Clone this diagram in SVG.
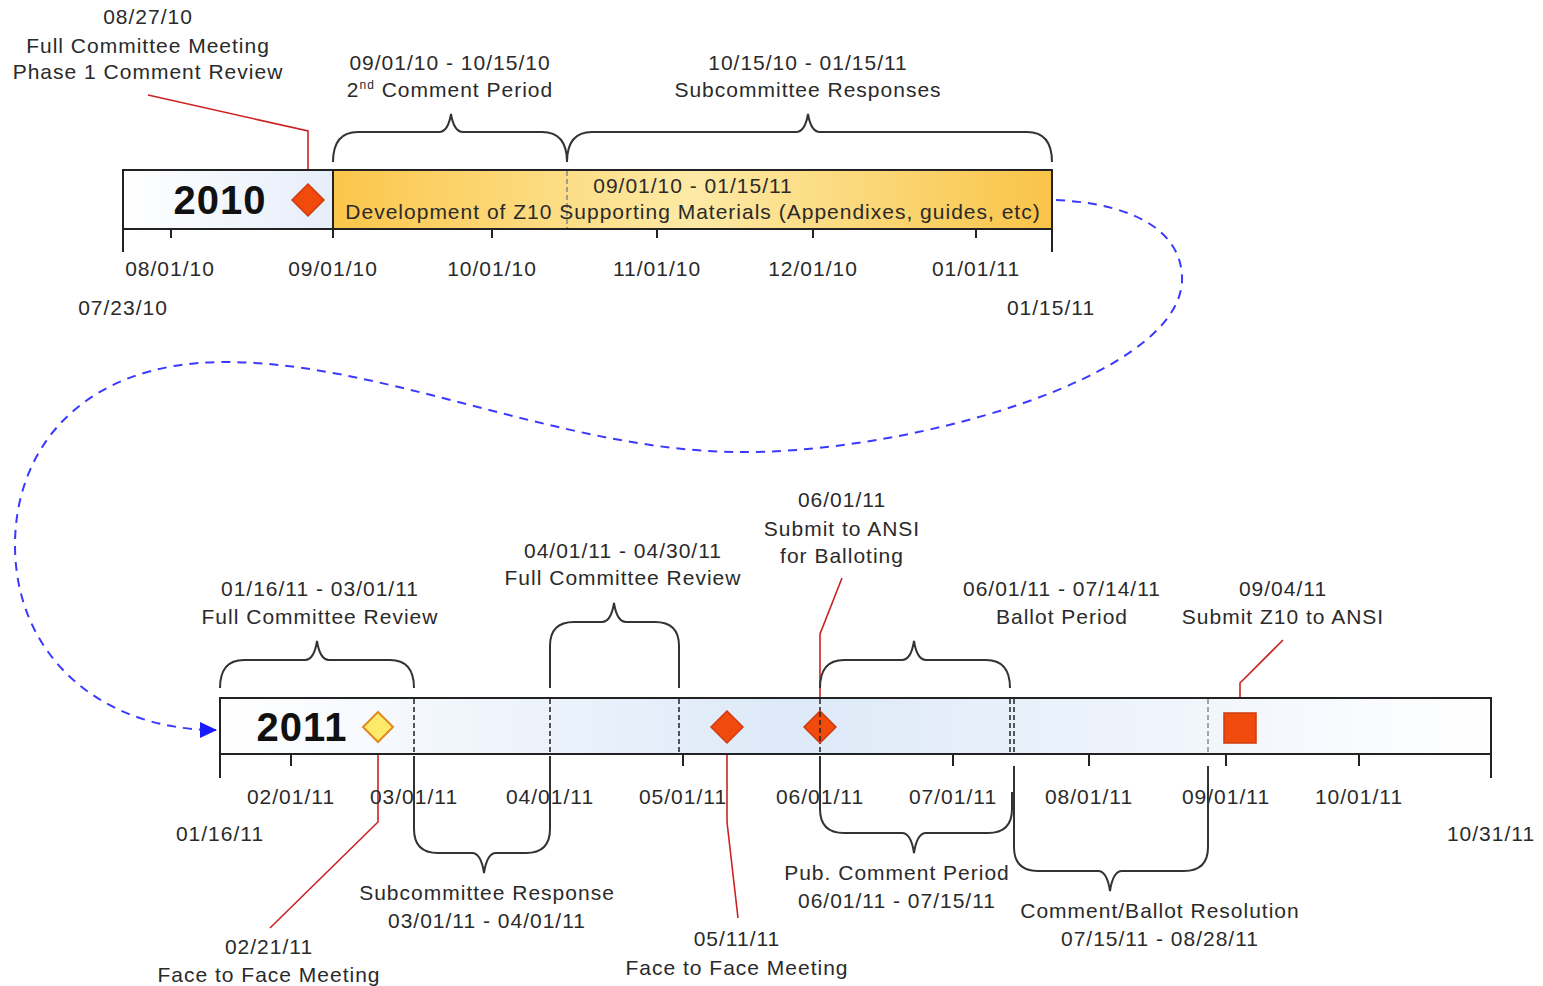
<svg xmlns="http://www.w3.org/2000/svg" width="1543" height="986" viewBox="0 0 1543 986">
<style>
text{font-family:"Liberation Sans",Arial,sans-serif;font-size:21px;fill:#2a2a2a;letter-spacing:1px;text-anchor:middle}
.yr{font-size:40px;font-weight:bold;fill:#111;letter-spacing:1px}
.bar{stroke:#222;stroke-width:2}
.tick{stroke:#222;stroke-width:2;fill:none}
.brace{stroke:#333;stroke-width:2;fill:none}
.vd{stroke:#222;stroke-width:1.5;stroke-dasharray:5,3;fill:none}
.vdg{stroke:#888;stroke-width:1.5;stroke-dasharray:5,3;fill:none}
.lead{stroke:#cc2222;stroke-width:1.6;fill:none}
.ms{fill:#f04a0c;stroke:#d03a10;stroke-width:1.5}
.conn{stroke:#3a3aff;stroke-width:2;stroke-dasharray:9,7;fill:none}
</style>
<defs>
<linearGradient id="gw" x1="0" x2="1" y1="0" y2="0">
<stop offset="0" stop-color="#ffffff"/><stop offset="1" stop-color="#e6eefa"/>
</linearGradient>
<linearGradient id="go" x1="0" x2="1" y1="0" y2="0">
<stop offset="0" stop-color="#fbc64a"/><stop offset="0.5" stop-color="#fdeaa6"/><stop offset="1" stop-color="#f9c448"/>
</linearGradient>
<linearGradient id="gb" x1="0" x2="1" y1="0" y2="0">
<stop offset="0" stop-color="#ffffff"/><stop offset="0.45" stop-color="#dde9f8"/><stop offset="1" stop-color="#ffffff"/>
</linearGradient>
<marker id="arr" markerWidth="18" markerHeight="18" refX="16" refY="9" orient="auto" markerUnits="userSpaceOnUse">
<path d="M0,1 L17,9 L0,17 Z" fill="#1a1aff"/>
</marker>
</defs>

<g id="connectors">
<path class="conn" d="M1056,200 C1140,204 1184,235 1182,282 C1176,380 900,455 735,452 C560,450 380,360 220,362 C80,364 15,450 15,545 C15,655 100,730 216,730" marker-end="url(#arr)"/>
<path class="lead" d="M308,185 L308,131 L148,95"/>
<path class="lead" d="M378,742 L378,822 L270,928"/>
<path class="lead" d="M727,742 L727,822 L738,918"/>
<path class="lead" d="M820,712 L820,634 L842,578"/>
<path class="lead" d="M1240,713 L1240,683 L1283,640"/>
</g>

<g id="timeline-2010">
<rect class="bar" x="123" y="170" width="210" height="59" fill="url(#gw)"/>
<rect class="bar" x="333" y="170" width="719" height="59" fill="url(#go)"/>
<line class="vdg" x1="567" y1="171" x2="567" y2="228"/>
<path class="tick" d="M123,229 V252 M1052,229 V252 M171,229 V238 M333,229 V238 M492,229 V238 M657,229 V238 M813,229 V238 M976,229 V238"/>
<text class="yr" x="220" y="214">2010</text>
<text x="170" y="276">08/01/10</text>
<text x="333" y="276">09/01/10</text>
<text x="492" y="276">10/01/10</text>
<text x="657" y="276">11/01/10</text>
<text x="813" y="276">12/01/10</text>
<text x="976" y="276">01/01/11</text>
<text x="123" y="315">07/23/10</text>
<text x="1051" y="315">01/15/11</text>
</g>

<g id="dev-materials">
<text x="693" y="193">09/01/10 - 01/15/11</text>
<text x="693" y="219">Development of Z10 Supporting Materials (Appendixes, guides, etc)</text>
</g>

<g id="milestone-082710">
<path class="ms" d="M308,184 L324,200 L308,216 L292,200 Z"/>
<text x="148" y="24">08/27/10</text>
<text x="148" y="53">Full Committee Meeting</text>
<text x="148" y="79">Phase 1 Comment Review</text>
</g>

<g id="comment-period-2">
<path class="brace" d="M333,162 Q333,132 358,132 L439,132 Q448,132 451,114 Q454,132 463,132 L542,132 Q567,132 567,162"/>
<text x="450" y="70">09/01/10 - 10/15/10</text>
<text x="450" y="97">2<tspan font-size="12" dy="-8">nd</tspan><tspan dy="8"> Comment Period</tspan></text>
</g>

<g id="subcommittee-responses">
<path class="brace" d="M567,162 Q567,132 592,132 L796,132 Q805,132 808,114 Q811,132 820,132 L1027,132 Q1052,132 1052,162"/>
<text x="808" y="70">10/15/10 - 01/15/11</text>
<text x="808" y="97">Subcommittee Responses</text>
</g>

<g id="timeline-2011">
<rect class="bar" x="220" y="698" width="1271" height="56" fill="url(#gb)"/>
<line class="vd" x1="414" y1="699" x2="414" y2="753"/>
<line class="vd" x1="550" y1="699" x2="550" y2="753"/>
<line class="vd" x1="679" y1="699" x2="679" y2="753"/>
<line class="vd" x1="820" y1="699" x2="820" y2="753"/>
<line class="vd" x1="1010" y1="699" x2="1010" y2="753"/>
<line class="vd" x1="1014" y1="699" x2="1014" y2="753"/>
<line class="vdg" x1="1208" y1="699" x2="1208" y2="753"/>
<path class="tick" d="M220,754 V778 M1491,754 V778 M291,754 V766 M683,754 V766 M953,754 V766 M1089,754 V766 M1226,754 V766 M1359,754 V766"/>
<text class="yr" x="302" y="741">2011</text>
<text x="291" y="804">02/01/11</text>
<text x="414" y="804">03/01/11</text>
<text x="550" y="804">04/01/11</text>
<text x="683" y="804">05/01/11</text>
<text x="820" y="804">06/01/11</text>
<text x="953" y="804">07/01/11</text>
<text x="1089" y="804">08/01/11</text>
<text x="1226" y="804">09/01/11</text>
<text x="1359" y="804">10/01/11</text>
<text x="220" y="841">01/16/11</text>
<text x="1491" y="841">10/31/11</text>
</g>

<g id="full-review-1">
<path class="brace" d="M220,688 Q220,660 244,660 L305,660 Q314,660 317,641 Q320,660 329,660 L390,660 Q414,660 414,688"/>
<text x="320" y="596">01/16/11 - 03/01/11</text>
<text x="320" y="624">Full Committee Review</text>
</g>

<g id="full-review-2">
<path class="brace" d="M550,688 L550,646 Q550,622 574,622 L602,622 Q611,622 614,603 Q617,622 626,622 L655,622 Q679,622 679,646 L679,688"/>
<text x="623" y="558">04/01/11 - 04/30/11</text>
<text x="623" y="585">Full Committee Review</text>
</g>

<g id="ballot-period">
<path class="brace" d="M820,688 Q820,660 844,660 L902,660 Q911,660 914,641 Q917,660 926,660 L986,660 Q1010,660 1010,688"/>
<text x="1062" y="596">06/01/11 - 07/14/11</text>
<text x="1062" y="624">Ballot Period</text>
</g>

<g id="subcommittee-response">
<path class="brace" d="M414,756 L414,829 Q414,853 438,853 L472,853 Q481,853 484,873 Q487,853 496,853 L526,853 Q550,853 550,829 L550,756"/>
<text x="487" y="900">Subcommittee Response</text>
<text x="487" y="928">03/01/11 - 04/01/11</text>
</g>

<g id="pub-comment">
<path class="brace" d="M820,756 L820,809 Q820,833 844,833 L902,833 Q911,833 914,853 Q917,833 926,833 L988,833 Q1012,833 1012,809 L1012,792"/>
<text x="897" y="880">Pub. Comment Period</text>
<text x="897" y="908">06/01/11 - 07/15/11</text>
</g>

<g id="resolution">
<path class="brace" d="M1014,766 L1014,847 Q1014,871 1038,871 L1098,871 Q1107,871 1110,891 Q1113,871 1122,871 L1184,871 Q1208,871 1208,847 L1208,766"/>
<text x="1160" y="918">Comment/Ballot Resolution</text>
<text x="1160" y="946">07/15/11 - 08/28/11</text>
</g>

<g id="milestone-022111">
<path d="M378,712 L393,727 L378,742 L363,727 Z" fill="#fde96a" stroke="#e08a20" stroke-width="2"/>
<text x="269" y="954">02/21/11</text>
<text x="269" y="982">Face to Face Meeting</text>
</g>

<g id="milestone-051111">
<path class="ms" d="M727,711 L743,727 L727,743 L711,727 Z"/>
<text x="737" y="946">05/11/11</text>
<text x="737" y="975">Face to Face Meeting</text>
</g>

<g id="milestone-060111">
<path class="ms" d="M820,711 L836,727 L820,743 L804,727 Z"/>
<line class="vd" x1="820" y1="712" x2="820" y2="742"/>
<text x="842" y="507">06/01/11</text>
<text x="842" y="536">Submit to ANSI</text>
<text x="842" y="563">for Balloting</text>
</g>

<g id="milestone-090411">
<rect class="ms" x="1224" y="713" width="32" height="30"/>
<text x="1283" y="596">09/04/11</text>
<text x="1283" y="624">Submit Z10 to ANSI</text>
</g>
</svg>
